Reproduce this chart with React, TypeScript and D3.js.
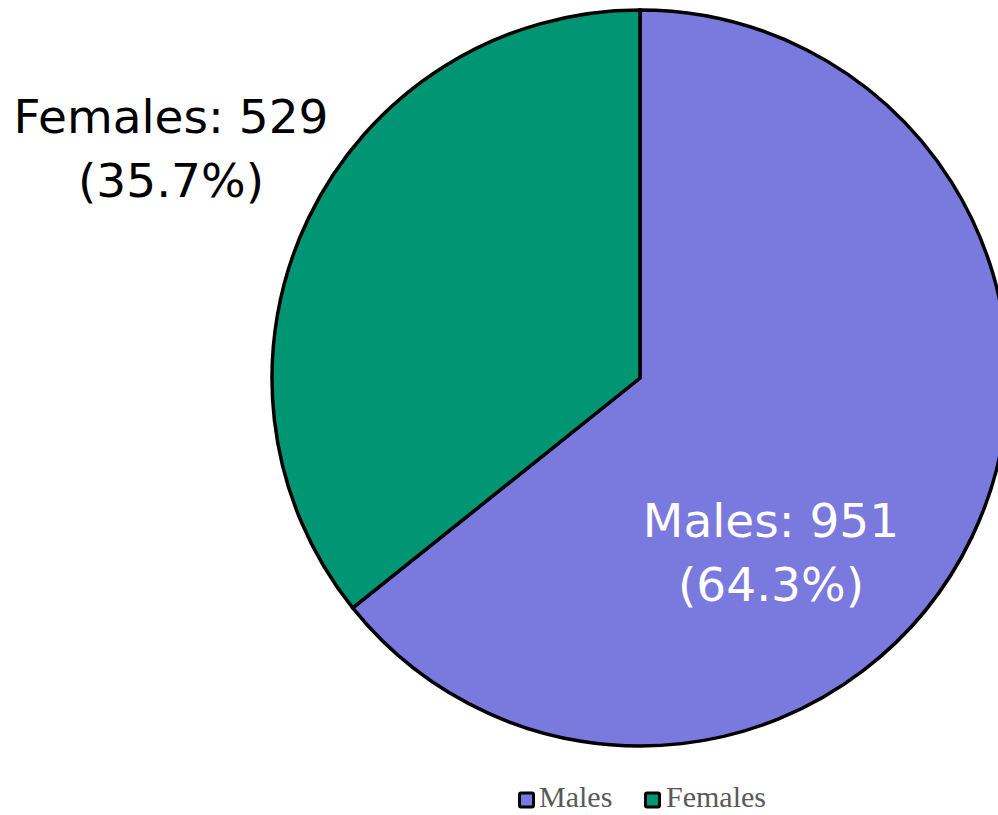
import React from "react";
import * as d3 from "d3";

const categories = ["Males", "Females"];
const values = [951, 529];
const percents = ["64.3%", "35.7%"];
const colors = ["#7979de", "#019673"];

export default function App() {
  const W = 998, H = 815;
  const cx = 640, cy = 378, r = 368;
  const pie = d3.pie<number>().sort(null)(values);
  const arc = d3.arc<d3.PieArcDatum<number>>().innerRadius(0).outerRadius(r);
  const labelPos = [
    { x: 771, y: 537, fill: "#ffffff" },
    { x: 171, y: 133, fill: "#000000" },
  ];
  const legendX = [518, 644];
  const legendTextX = [539, 666];
  return (
    <svg width={W} height={H} style={{ position: "absolute", left: 0, top: 0 }}>
      <rect width={W} height={H} fill="#ffffff" />
      <g transform={`translate(${cx},${cy})`}>
        {pie.map((d, i) => (
          <path key={i} d={arc(d) || ""} fill={colors[i]} stroke="#000" strokeWidth={3.5} strokeLinejoin="miter" />
        ))}
      </g>
      {categories.map((c, i) => (
        <text key={c} x={labelPos[i].x} y={labelPos[i].y} textAnchor="middle" fontFamily="'DejaVu Sans', Verdana, sans-serif" fontSize={47} fill={labelPos[i].fill}>
          <tspan x={labelPos[i].x}>{`${c}: ${values[i]}`}</tspan>
          <tspan x={labelPos[i].x} dy={64}>{`(${percents[i]})`}</tspan>
        </text>
      ))}
      {categories.map((c, i) => (
        <g key={"lg" + c}>
          <rect x={legendX[i] + 1.5} y={793} width={14} height={14} fill={colors[i]} stroke="#000" strokeWidth={3} rx={1.5} />
          <text x={legendTextX[i]} y={807} fontFamily="'Liberation Serif', 'Times New Roman', serif" fontSize={30} fill="#595959">{c}</text>
        </g>
      ))}
    </svg>
  );
}
